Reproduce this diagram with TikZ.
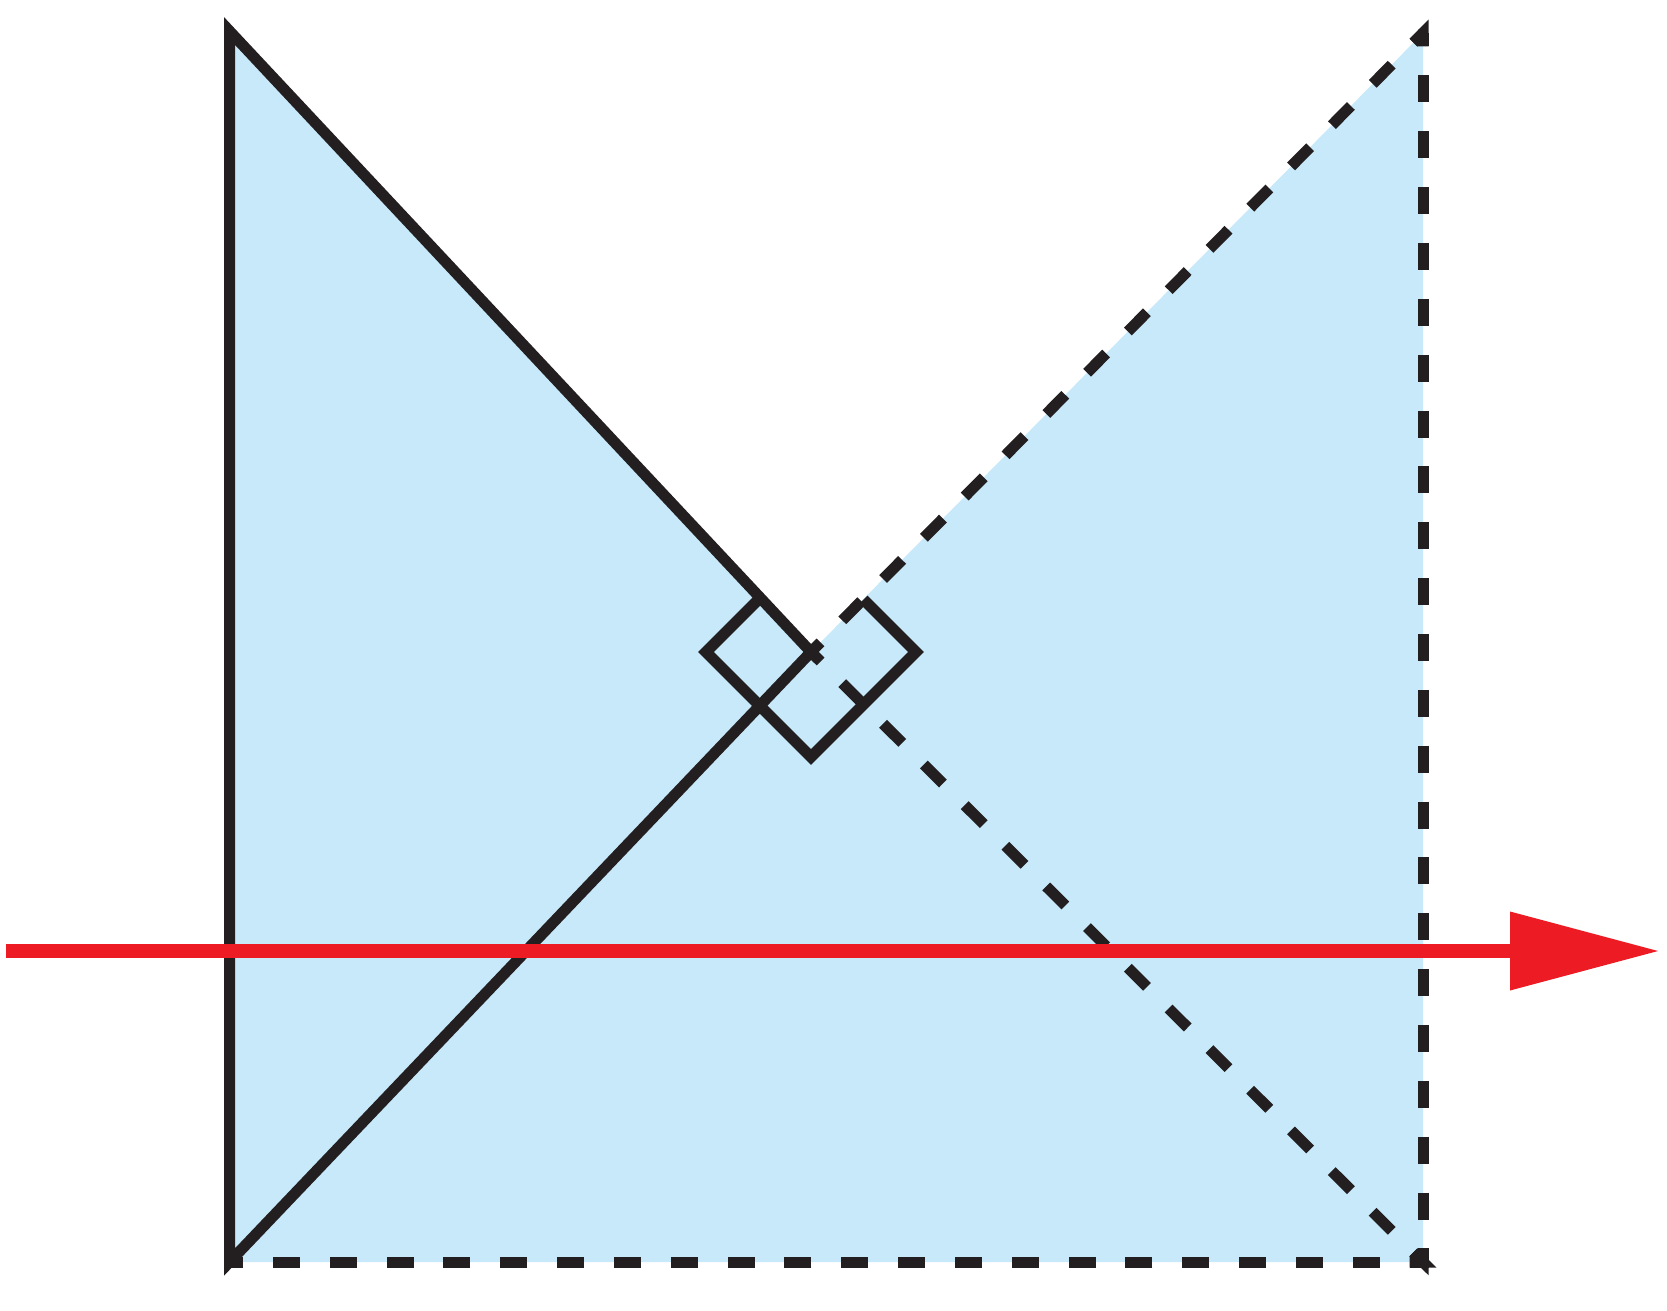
\documentclass[tikz,border=0pt]{standalone}
\usetikzlibrary{calc}
\definecolor{ink}{RGB}{35,31,32}
\definecolor{paleblue}{RGB}{199,233,250}
\definecolor{arrowred}{RGB}{237,28,36}
\begin{document}
\begin{tikzpicture}[x=1pt,y=-1pt,
  edge/.style={draw=ink,line width=11pt,line join=miter,line cap=butt},
  dashedge/.style={edge,dash pattern=on 27pt off #1,dash phase=13.5pt},
  shaft/.style={draw=arrowred,line width=13.5pt,line cap=butt},
  headfill/.style={fill=arrowred}]
\useasboundingbox (0,0) rectangle (1667,1311);
% vertices
\coordinate (V1) at (229.5,31);
\coordinate (V2) at (229.5,1262);
\coordinate (V3) at (1423,33);
\coordinate (V4) at (1423,1262);
\coordinate (I)  at (811,652);
% right-angle marker (square turned 45 degrees, centred on I)
\coordinate (L) at ($(I)+(-105,0)$);
\coordinate (R) at ($(I)+(105,0)$);
\coordinate (B) at ($(I)+(0,105)$);
\coordinate (T) at ($(I)+(-52.5,-52.5)$);
\coordinate (S) at ($(I)+(52.5,-52.5)$);
% arrow
\coordinate (A0) at (6,951);
\coordinate (A1) at (1512,951);
\coordinate (H1) at (1510,911.5);
\coordinate (H2) at (1510,990.5);
\coordinate (Atip) at (1658,951);

% fill
\fill[paleblue] (V1) -- (I) -- (V3) -- (V4) -- (V2) -- cycle;

% dashed lines
\draw[dashedge=31.03pt] (I) -- (V3);
\draw[dashedge=30.6pt] (I) -- (V4);
\draw[dashedge=28.86pt] (V3) -- (V4);
\draw[dashedge=29.83pt] (V4) -- (V2);
% corner pieces
\draw[edge] ($(V3)!13.5pt!(I)$) -- (V3) -- ($(V3)!13.5pt!(V4)$);
\draw[edge] ($(V4)!13.5pt!(V3)$) -- (V4) -- ($(V4)!13.5pt!(V2)$);
\draw[edge] ($(V4)!13.5pt!(I)$) -- (V4) -- ($(V4)!13.5pt!(V2)$);
\draw[edge] ($(V4)!13.5pt!(I)$) -- (V4) -- ($(V4)!13.5pt!(V3)$);

% solid triangle
\draw[edge] (I) -- (V1) -- (V2) -- (I);

% marker
\draw[edge] (T) -- (L) -- (B) -- (R) -- (S);

% red arrow
\draw[shaft] (A0) -- (A1);
\fill[headfill] (H1) -- (Atip) -- (H2) -- cycle;
\end{tikzpicture}
\end{document}
